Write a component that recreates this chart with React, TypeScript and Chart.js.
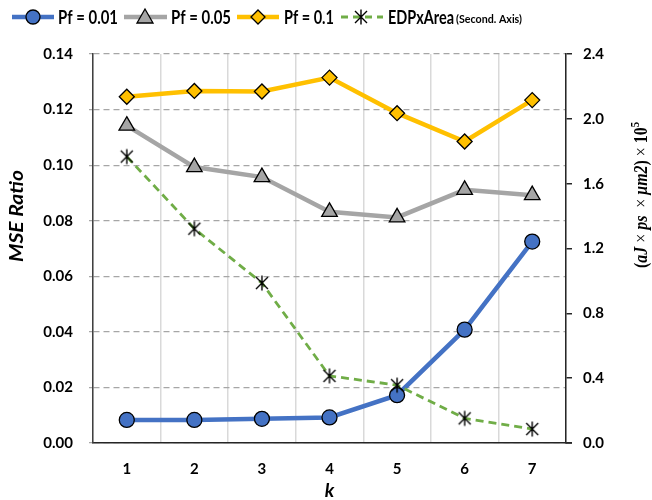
import React, { useEffect, useRef } from "react";
import { Chart, registerables } from "chart.js";

Chart.register(...registerables);

const categories = ["1", "2", "3", "4", "5", "6", "7"];
const pf001 = [0.0083, 0.0083, 0.0087, 0.0092, 0.0172, 0.0408, 0.0725];
const pf005 = [0.1142, 0.0993, 0.0957, 0.0832, 0.0812, 0.0911, 0.0892];
const pf01 = [0.1246, 0.1267, 0.1265, 0.1315, 0.1187, 0.1085, 0.1234];
const edpArea = [1.767, 1.322, 0.987, 0.414, 0.357, 0.152, 0.086];
const seriesNames = ["Pf = 0.01", "Pf = 0.05", "Pf = 0.1", "EDPxArea"];

const BLUE = "#4472C4";
const GRAY = "#A5A5A5";
const YELLOW = "#FFC000";
const GREEN = "#70AD47";
const FONT = "Lato";

function makeStar(size: number): HTMLCanvasElement {
  const c = document.createElement("canvas");
  c.width = size;
  c.height = size;
  const ctx = c.getContext("2d")!;
  const h = size / 2;
  const r = h - 1.5;
  ctx.strokeStyle = "#000";
  ctx.lineWidth = 1.4;
  ctx.beginPath();
  ctx.moveTo(h, h - r);
  ctx.lineTo(h, h + r);
  const d = r * 0.8;
  ctx.moveTo(h - d, h - d);
  ctx.lineTo(h + d, h + d);
  ctx.moveTo(h + d, h - d);
  ctx.lineTo(h - d, h + d);
  ctx.stroke();
  return c;
}

function drawMarker(ctx: CanvasRenderingContext2D, kind: string, x: number, y: number, star: HTMLCanvasElement) {
  ctx.save();
  ctx.lineWidth = 1.3;
  ctx.strokeStyle = "#000";
  if (kind === "circle") {
    ctx.fillStyle = BLUE;
    ctx.beginPath();
    ctx.arc(x, y, 7, 0, Math.PI * 2);
    ctx.fill();
    ctx.stroke();
  } else if (kind === "triangle") {
    ctx.fillStyle = GRAY;
    ctx.beginPath();
    ctx.moveTo(x, y - 8);
    ctx.lineTo(x + 8, y + 6);
    ctx.lineTo(x - 8, y + 6);
    ctx.closePath();
    ctx.fill();
    ctx.stroke();
  } else if (kind === "diamond") {
    ctx.fillStyle = YELLOW;
    ctx.beginPath();
    ctx.moveTo(x, y - 7);
    ctx.lineTo(x + 7, y);
    ctx.lineTo(x, y + 7);
    ctx.lineTo(x - 7, y);
    ctx.closePath();
    ctx.fill();
    ctx.stroke();
  } else {
    ctx.drawImage(star, x - star.width / 2, y - star.height / 2);
  }
  ctx.restore();
}

function fitText(ctx: CanvasRenderingContext2D, text: string, x: number, y: number, width: number) {
  const w = ctx.measureText(text).width;
  ctx.save();
  ctx.translate(x, y);
  ctx.scale(width / w, 1);
  ctx.fillText(text, 0, 0);
  ctx.restore();
}

export default function App() {
  const ref = useRef<HTMLCanvasElement | null>(null);

  useEffect(() => {
    document.body.style.margin = "0";
    const star = makeStar(18);

    const overlay = {
      id: "overlay",
      afterDraw(chart: any) {
        const ctx: CanvasRenderingContext2D = chart.ctx;
        const ca = chart.chartArea;
        ctx.save();
        ctx.strokeStyle = "#262626";
        ctx.lineWidth = 1.5;
        ctx.beginPath();
        ctx.moveTo(ca.right, ca.bottom);
        ctx.lineTo(ca.right + 6, ca.bottom);
        ctx.stroke();

        // legend
        const ly = 17;
        const items = [
          { x0: 12, x1: 54, mx: 33, tx: 58, tw: 60, color: BLUE, kind: "circle", dash: [] as number[], lw: 4.5 },
          { x0: 124, x1: 167, mx: 145, tx: 171, tw: 60, color: GRAY, kind: "triangle", dash: [], lw: 4.5 },
          { x0: 237, x1: 279, mx: 258, tx: 284, tw: 50, color: YELLOW, kind: "diamond", dash: [], lw: 4.5 },
          { x0: 341, x1: 383, mx: 361, tx: 388, tw: 66, color: GREEN, kind: "star", dash: [7, 5], lw: 3 },
        ];
        items.forEach((it, i) => {
          ctx.save();
          ctx.strokeStyle = it.color;
          ctx.lineWidth = it.lw;
          ctx.setLineDash(it.dash);
          ctx.beginPath();
          ctx.moveTo(it.x0, ly);
          ctx.lineTo(it.x1, ly);
          ctx.stroke();
          ctx.restore();
          drawMarker(ctx, it.kind, it.mx, ly, star);
          ctx.fillStyle = "#000";
          ctx.font = `bold 18px ${FONT}`;
          ctx.textBaseline = "middle";
          ctx.textAlign = "left";
          fitText(ctx, seriesNames[i], it.tx, ly + 1, it.tw);
          if (i === 3) {
            ctx.font = `bold 12px ${FONT}`;
            fitText(ctx, "(Second. Axis)", 456, ly + 2, 66);
          }
        });

        // left title
        ctx.save();
        ctx.translate(17, 216);
        ctx.rotate(-Math.PI / 2);
        ctx.font = `italic bold 18px ${FONT}`;
        ctx.textAlign = "left";
        ctx.textBaseline = "middle";
        ctx.fillStyle = "#000";
        fitText(ctx, "MSE Ratio", -46, 0, 92);
        ctx.restore();

        // x title
        ctx.font = `italic bold 19px ${FONT}`;
        ctx.textAlign = "center";
        ctx.textBaseline = "middle";
        ctx.fillStyle = "#000";
        ctx.fillText("k", (ca.left + ca.right) / 2, 491);

        // right title (rich)
        const segs: [string, string][] = [
          ["(", "bold 18px 'Liberation Serif'"],
          ["aJ", "italic bold 18px 'Liberation Serif'"],
          [" × ", "18px 'Liberation Serif'"],
          ["ps", "italic bold 18px 'Liberation Serif'"],
          ["  × ", "18px 'Liberation Serif'"],
          ["μm2", "italic bold 18px 'Liberation Serif'"],
          [")", "bold 18px 'Liberation Serif'"],
          [" × ", "18px 'Liberation Serif'"],
          ["10", "bold 18px 'Liberation Serif'"],
        ];
        const supFont = "bold 12px 'Liberation Serif'";
        let total = 0;
        segs.forEach(([t, f]) => {
          ctx.font = f;
          total += ctx.measureText(t).width;
        });
        ctx.font = supFont;
        total += ctx.measureText("5").width;
        ctx.save();
        ctx.translate(641, 195);
        ctx.rotate(-Math.PI / 2);
        ctx.scale(146 / total, 1);
        ctx.textBaseline = "alphabetic";
        ctx.textAlign = "left";
        ctx.fillStyle = "#000";
        let x = -total / 2;
        segs.forEach(([t, f]) => {
          ctx.font = f;
          ctx.fillText(t, x, 6);
          x += ctx.measureText(t).width;
        });
        ctx.font = supFont;
        ctx.fillText("5", x, -2);
        ctx.restore();

        ctx.restore();
      },
    };

    const chart = new Chart(ref.current!, {
      type: "line",
      data: {
        labels: categories,
        datasets: [
          {
            label: seriesNames[0],
            data: pf001,
            borderColor: BLUE,
            backgroundColor: BLUE,
            borderWidth: 4.5,
            pointStyle: "circle",
            pointRadius: 7.5,
            pointBorderColor: "#000",
            pointBorderWidth: 1.3,
            pointBackgroundColor: BLUE,
            yAxisID: "y",
            order: 1,
          },
          {
            label: seriesNames[1],
            data: pf005,
            borderColor: GRAY,
            backgroundColor: GRAY,
            borderWidth: 4.5,
            pointStyle: "triangle",
            pointRadius: 9,
            pointBorderColor: "#000",
            pointBorderWidth: 1.3,
            pointBackgroundColor: GRAY,
            yAxisID: "y",
            order: 2,
          },
          {
            label: seriesNames[2],
            data: pf01,
            borderColor: YELLOW,
            backgroundColor: YELLOW,
            borderWidth: 4.5,
            pointStyle: "rectRot",
            pointRadius: 7.5,
            pointBorderColor: "#000",
            pointBorderWidth: 1.3,
            pointBackgroundColor: YELLOW,
            yAxisID: "y",
            order: 3,
          },
          {
            label: seriesNames[3],
            data: edpArea,
            borderColor: GREEN,
            backgroundColor: GREEN,
            borderWidth: 2.8,
            borderDash: [8, 5],
            pointStyle: star as any,
            pointRadius: 9,
            yAxisID: "y1",
            order: 0,
          },
        ],
      },
      options: {
        animation: false,
        responsive: false,
        maintainAspectRatio: false,
        layout: { padding: { top: 54, left: 0, right: 0, bottom: 0 } },
        plugins: {
          legend: { display: false },
          tooltip: { enabled: false },
        },
        scales: {
          x: {
            offset: true,
            grid: {
              offset: true,
              color: "#D9D9D9",
              lineWidth: 1.5,
              drawTicks: false,
            },
            border: { color: "#262626", width: 1.5 },
            ticks: {
              color: "#000",
              padding: 17,
              font: { family: FONT, weight: "bold", size: 15 },
            },
            afterFit(scale: any) {
              scale.height = 57;
            },
          },
          y: {
            position: "left",
            min: 0,
            max: 0.14,
            ticks: {
              stepSize: 0.02,
              color: "#000",
              padding: 16,
              font: { family: FONT, weight: "bold", size: 15 },
              callback: (v: any) => Number(v).toFixed(2),
            },
            grid: {
              color: "#A6A6A6",
              lineWidth: 1.25,
              tickLength: 4,
              drawTicks: true,
            },
            border: { color: "#404040", width: 1.5, dash: [6, 4] },
            afterFit(scale: any) {
              scale.width = 93;
            },
          },
          y1: {
            position: "right",
            min: 0,
            max: 2.4,
            ticks: {
              stepSize: 0.4,
              color: "#000",
              padding: 11,
              font: { family: FONT, weight: "bold", size: 15 },
              callback: (v: any) => Number(v).toFixed(1),
            },
            grid: {
              drawOnChartArea: false,
              drawTicks: true,
              tickLength: 6,
              color: "#262626",
              lineWidth: 1.5,
            },
            border: { color: "#262626", width: 1.5 },
            afterFit(scale: any) {
              scale.width = 86;
            },
          },
        },
      },
      plugins: [overlay],
    });
    return () => chart.destroy();
  }, []);

  return (
    <div style={{ width: 652, height: 500 }}>
      <canvas ref={ref} width={652} height={500} style={{ display: "block" }} />
    </div>
  );
}
